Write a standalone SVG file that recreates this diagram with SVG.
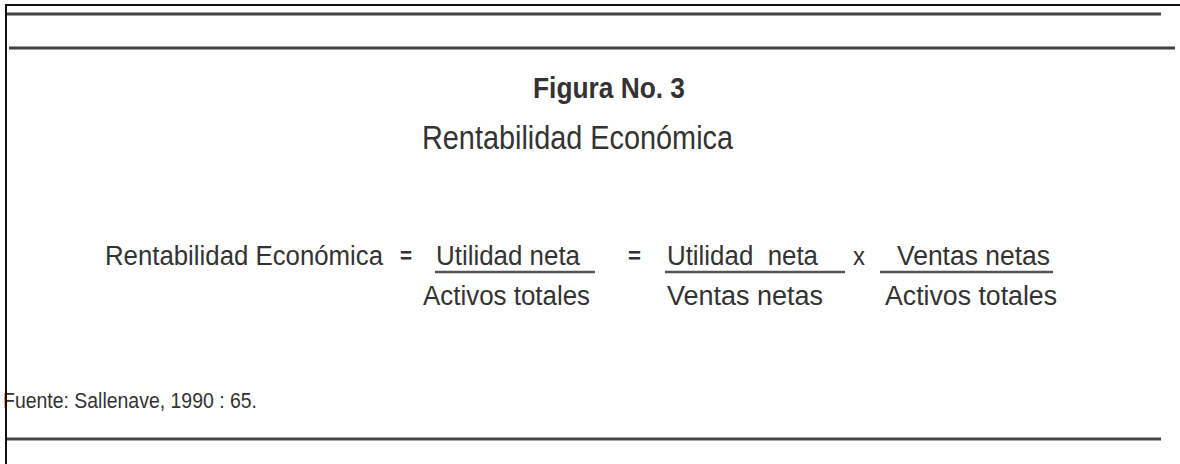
<svg xmlns="http://www.w3.org/2000/svg" width="1180" height="464" viewBox="0 0 1180 464">
<style>
.t{font-family:"Liberation Sans",Arial,sans-serif;fill:#333;}
.b{font-weight:bold;}
.rule{stroke:#444;stroke-width:3;fill:none;}
.frame{stroke:#111;stroke-width:2;fill:none;}
.bar{stroke:#555;stroke-width:2.5;fill:none;}
</style>
<rect width="1180" height="464" fill="#fff"/>
<g id="frame">
<line class="frame" x1="5" y1="5" x2="1180" y2="5"/>
<line class="rule" x1="6" y1="14" x2="1161" y2="14"/>
<line class="rule" x1="9" y1="48" x2="1175" y2="48"/>
<line class="rule" x1="6" y1="439" x2="1161" y2="439"/>
</g>
<g id="title">
<text class="t b" x="533" y="98" font-size="29" textLength="152" lengthAdjust="spacingAndGlyphs">Figura No. 3</text>
<text class="t" x="422" y="149" font-size="34" textLength="311" lengthAdjust="spacingAndGlyphs">Rentabilidad Económica</text>
</g>
<g id="equation">
<text class="t" x="105" y="265" font-size="27" textLength="278" lengthAdjust="spacingAndGlyphs">Rentabilidad Económica</text>
<text class="t b" x="400" y="263" font-size="22" textLength="12" lengthAdjust="spacingAndGlyphs">=</text>
<g id="frac1">
<text class="t" x="436" y="265" font-size="27" textLength="144" lengthAdjust="spacingAndGlyphs">Utilidad neta</text>
<line class="bar" x1="435" y1="272" x2="595" y2="272"/>
<text class="t" x="423" y="305" font-size="27" textLength="167" lengthAdjust="spacingAndGlyphs">Activos totales</text>
</g>
<text class="t b" x="628" y="263" font-size="22" textLength="13" lengthAdjust="spacingAndGlyphs">=</text>
<g id="frac2">
<text class="t" x="667" y="265" font-size="27" textLength="151" lengthAdjust="spacingAndGlyphs" xml:space="preserve">Utilidad  neta</text>
<line class="bar" x1="665" y1="272" x2="845" y2="272"/>
<text class="t" x="667" y="305" font-size="27" textLength="156" lengthAdjust="spacingAndGlyphs">Ventas netas</text>
</g>
<text class="t" x="853" y="265" font-size="26" textLength="12" lengthAdjust="spacingAndGlyphs">x</text>
<g id="frac3">
<text class="t" x="897" y="265" font-size="27" textLength="153" lengthAdjust="spacingAndGlyphs">Ventas netas</text>
<line class="bar" x1="880" y1="272" x2="1053" y2="272"/>
<text class="t" x="885" y="305" font-size="27" textLength="172" lengthAdjust="spacingAndGlyphs">Activos totales</text>
</g>
</g>
<g id="source">
<text class="t" x="3" y="408" font-size="22" textLength="254" lengthAdjust="spacingAndGlyphs">Fuente: Sallenave, 1990 : 65.</text>
</g>
<line class="frame" x1="6" y1="5" x2="6" y2="464"/>
</svg>
